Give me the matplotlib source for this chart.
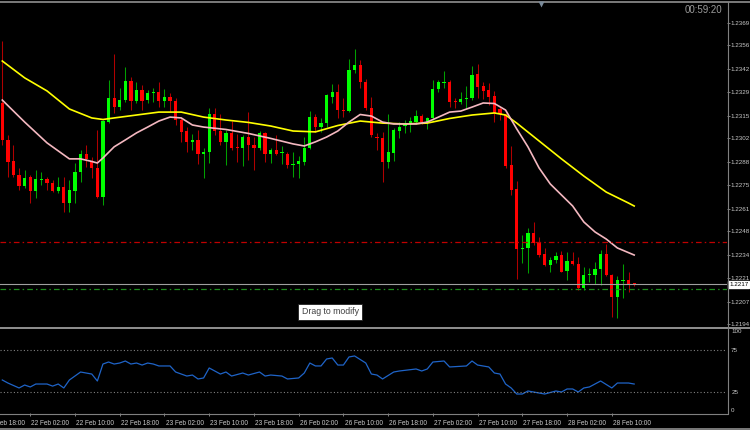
import matplotlib
matplotlib.use("Agg")
import matplotlib.pyplot as plt
import matplotlib.transforms as mtransforms
import numpy as np

plt.rcParams["font.family"] = ["Liberation Sans", "DejaVu Sans"]

# hourly candles, 21 Feb 21:00 .. 28 Feb 14:00
opens = [1.23225, 1.23010, 1.22887, 1.22806, 1.22742, 1.22794, 1.22713, 1.22777, 1.22783, 1.22760,
         1.22713, 1.22736, 1.22643, 1.22713, 1.22823, 1.22929, 1.22887, 1.22846, 1.22678, 1.23114,
         1.23254, 1.23201, 1.23242, 1.23353, 1.23236, 1.23300, 1.23242, 1.23283, 1.23289, 1.23236,
         1.23260, 1.23236, 1.23126, 1.23062, 1.22999, 1.23010, 1.22929, 1.22940, 1.23161, 1.23062,
         1.22999, 1.23051, 1.22970, 1.22964, 1.23027, 1.22981, 1.22964, 1.23051, 1.22929, 1.22952,
         1.22935, 1.22929, 1.22864, 1.22870, 1.22881, 1.22964, 1.23143, 1.23085, 1.23108, 1.23260,
         1.23289, 1.23184, 1.23178, 1.23417, 1.23446, 1.23347, 1.23196, 1.23027, 1.23021, 1.22881,
         1.22935, 1.23062, 1.23091, 1.23103, 1.23114, 1.23149, 1.23114, 1.23138, 1.23306, 1.23341,
         1.23347, 1.23236, 1.23230, 1.23248, 1.23254, 1.23394, 1.23324, 1.23300, 1.23266, 1.23190,
         1.23155, 1.22864, 1.22725, 1.22376, 1.22382, 1.22469, 1.22417, 1.22347, 1.22283, 1.22312,
         1.22341, 1.22248, 1.22306, 1.22289, 1.22149, 1.22225, 1.22225, 1.22260, 1.22347, 1.22225,
         1.22097, 1.22190, 1.22196, 1.22178]
highs = [1.23585, 1.23039, 1.22981, 1.22846, 1.22835, 1.22806, 1.22835, 1.22823, 1.22794, 1.22777,
         1.22794, 1.22794, 1.22777, 1.22876, 1.22952, 1.22981, 1.22911, 1.23068, 1.23126, 1.23359,
         1.23510, 1.23312, 1.23434, 1.23376, 1.23347, 1.23330, 1.23300, 1.23312, 1.23347, 1.23306,
         1.23283, 1.23254, 1.23143, 1.23085, 1.23045, 1.23068, 1.22964, 1.23196, 1.23196, 1.23161,
         1.23068, 1.23120, 1.23045, 1.23039, 1.23172, 1.23027, 1.23062, 1.23057, 1.22964, 1.23039,
         1.22975, 1.22940, 1.22940, 1.22917, 1.23027, 1.23178, 1.23161, 1.23138, 1.23277, 1.23335,
         1.23335, 1.23254, 1.23481, 1.23539, 1.23475, 1.23365, 1.23260, 1.23051, 1.23057, 1.23161,
         1.23079, 1.23114, 1.23126, 1.23143, 1.23184, 1.23161, 1.23143, 1.23359, 1.23359, 1.23411,
         1.23359, 1.23254, 1.23289, 1.23324, 1.23440, 1.23452, 1.23347, 1.23341, 1.23295, 1.23201,
         1.23167, 1.22975, 1.22771, 1.22458, 1.22498, 1.22533, 1.22446, 1.22382, 1.22330, 1.22359,
         1.22365, 1.22359, 1.22359, 1.22330, 1.22272, 1.22266, 1.22301, 1.22370, 1.22405, 1.22230,
         1.22219, 1.22289, 1.22242, 1.22180]
lows = [1.22981, 1.22794, 1.22794, 1.22719, 1.22731, 1.22643, 1.22673, 1.22748, 1.22719, 1.22707,
        1.22701, 1.22591, 1.22591, 1.22643, 1.22765, 1.22852, 1.22789, 1.22675, 1.22632, 1.23108,
        1.23166, 1.23184, 1.23230, 1.23184, 1.23225, 1.23184, 1.23225, 1.23230, 1.23201, 1.23201,
        1.23172, 1.23097, 1.22999, 1.22940, 1.22952, 1.22870, 1.22789, 1.22876, 1.23039, 1.22981,
        1.22864, 1.22952, 1.22881, 1.22858, 1.22893, 1.22835, 1.22952, 1.22881, 1.22876, 1.22923,
        1.22870, 1.22846, 1.22794, 1.22789, 1.22864, 1.22960, 1.23057, 1.23057, 1.23085, 1.23225,
        1.23138, 1.23143, 1.23172, 1.23399, 1.23312, 1.23184, 1.23027, 1.22952, 1.22765, 1.22846,
        1.22887, 1.23021, 1.23051, 1.23057, 1.23103, 1.23103, 1.23074, 1.23126, 1.23289, 1.23312,
        1.23201, 1.23196, 1.23219, 1.23196, 1.23242, 1.23254, 1.23248, 1.23213, 1.23114, 1.23126,
        1.22846, 1.22690, 1.22202, 1.22295, 1.22237, 1.22399, 1.22330, 1.22277, 1.22242, 1.22295,
        1.22240, 1.22196, 1.22283, 1.22138, 1.22138, 1.22184, 1.22173, 1.22167, 1.22219, 1.21981,
        1.21975, 1.22091, 1.22126, 1.22158]
closes = [1.23010, 1.22881, 1.22806, 1.22742, 1.22789, 1.22713, 1.22783, 1.22783, 1.22760, 1.22713,
          1.22736, 1.22643, 1.22719, 1.22823, 1.22929, 1.22900, 1.22846, 1.22678, 1.23120, 1.23254,
          1.23201, 1.23242, 1.23353, 1.23236, 1.23300, 1.23236, 1.23283, 1.23289, 1.23236, 1.23260,
          1.23236, 1.23126, 1.23057, 1.22999, 1.23010, 1.22929, 1.22940, 1.23161, 1.23062, 1.22999,
          1.23051, 1.22964, 1.22964, 1.23027, 1.22981, 1.22964, 1.23051, 1.22929, 1.22952, 1.22929,
          1.22940, 1.22864, 1.22870, 1.22887, 1.22964, 1.23143, 1.23085, 1.23108, 1.23271, 1.23289,
          1.23184, 1.23178, 1.23417, 1.23446, 1.23347, 1.23196, 1.23039, 1.23021, 1.22881, 1.22940,
          1.23068, 1.23085, 1.23103, 1.23120, 1.23149, 1.23114, 1.23138, 1.23306, 1.23347, 1.23347,
          1.23230, 1.23230, 1.23248, 1.23254, 1.23388, 1.23318, 1.23295, 1.23260, 1.23167, 1.23161,
          1.22858, 1.22719, 1.22376, 1.22382, 1.22469, 1.22411, 1.22341, 1.22283, 1.22312, 1.22336,
          1.22242, 1.22306, 1.22289, 1.22149, 1.22225, 1.22231, 1.22260, 1.22347, 1.22225, 1.22097,
          1.22196, 1.22196, 1.22167, 1.22170]

# moving averages (bar index, price)
ma_slow_idx = [0, 4, 8, 12, 16, 18, 20, 24, 28, 32, 36, 40, 44, 48, 52, 56, 60, 64, 68, 72,
               76, 80, 84, 88, 90, 92, 96, 100, 104, 108, 112, 113]
ma_slow = [1.23469, 1.23371, 1.23295, 1.23190, 1.23138, 1.23129, 1.23138, 1.23155, 1.23172, 1.23172,
           1.23143, 1.23126, 1.23112, 1.23091, 1.23062, 1.23057, 1.23094, 1.23120, 1.23108, 1.23103,
           1.23108, 1.23135, 1.23155, 1.23167, 1.23155, 1.23108, 1.23004, 1.22900, 1.22800, 1.22707,
           1.22643, 1.22626]
ma_fast_idx = [0, 4, 8, 12, 14, 16, 17, 18, 20, 22, 24, 26, 28, 30, 32, 34, 36, 40, 44, 48,
               52, 54, 56, 58, 60, 62, 64, 66, 68, 70, 74, 76, 78, 80, 82, 84, 86, 88, 90, 92,
               94, 96, 98, 100, 102, 104, 106, 108, 110, 113]
ma_fast = [1.23242, 1.23114, 1.22993, 1.22900, 1.22900, 1.22885, 1.22876, 1.22905, 1.22970, 1.23010,
           1.23051, 1.23085, 1.23120, 1.23143, 1.23138, 1.23097, 1.23085, 1.23071, 1.23048, 1.23019,
           1.22987, 1.22975, 1.22999, 1.23027, 1.23062, 1.23114, 1.23158, 1.23149, 1.23114, 1.23103,
           1.23103, 1.23114, 1.23143, 1.23172, 1.23178, 1.23201, 1.23225, 1.23222, 1.23184, 1.23074,
           1.22970, 1.22847, 1.22754, 1.22690, 1.22626, 1.22533, 1.22475, 1.22434, 1.22382, 1.22341]

red_level = 1.22416
green_level = 1.22144

# oscillator (bar index, value)
osc_idx = [0, 1, 3, 4, 5, 6, 8, 9, 10, 11, 12, 14, 16, 17, 18, 19, 20, 21, 22, 23,
           24, 25, 26, 27, 28, 30, 31, 33, 34, 35, 36, 37, 39, 40, 41, 43, 44, 46, 47, 48,
           50, 51, 53, 54, 55, 56, 57, 58, 59, 60, 61, 62, 63, 65, 66, 67, 68, 70, 71, 74,
           75, 76, 77, 79, 80, 83, 84, 85, 87, 88, 89, 90, 91, 92, 93, 94, 95, 97, 99, 100,
           101, 102, 103, 104, 105, 107, 109, 110, 112, 113]
osc = [39.3, 35.7, 29.8, 33.3, 31.0, 34.5, 34.5, 32.0, 34.5, 29.8, 39.3, 48.8, 46.4, 38.1, 58.3, 60.7,
       58.3, 59.5, 61.9, 58.3, 59.5, 57.1, 59.5, 58.3, 56.0, 56.0, 48.8, 44.0, 45.2, 40.5, 41.7, 53.6,
       46.4, 48.8, 44.0, 47.6, 45.2, 48.8, 44.0, 45.2, 44.0, 40.5, 41.7, 47.6, 59.5, 56.0, 56.0, 64.3,
       65.5, 57.1, 57.1, 66.7, 67.9, 59.5, 46.4, 45.2, 40.5, 48.8, 50.0, 52.4, 50.0, 52.4, 60.7, 61.9,
       54.8, 56.0, 61.9, 57.1, 54.8, 47.6, 46.4, 34.5, 29.8, 22.6, 22.6, 26.2, 25.0, 22.6, 26.2, 25.0,
       28.6, 28.6, 25.0, 29.8, 31.0, 38.1, 29.8, 35.7, 35.7, 34.5]
osc_levels = [75, 25]

price_ticks = [1.2369, 1.2356, 1.2342, 1.2329, 1.2315, 1.2302, 1.2288, 1.2275, 1.2261, 1.2248,
               1.2234, 1.2221, 1.2207, 1.2194]
time_idx = [-3, 5, 13, 21, 29, 37, 45, 53, 61, 69, 77, 85, 93, 101, 109]
time_labels = ["21 Feb 18:00", "22 Feb 02:00", "22 Feb 10:00", "22 Feb 18:00", "23 Feb 02:00",
               "23 Feb 10:00", "23 Feb 18:00", "26 Feb 02:00", "26 Feb 10:00", "26 Feb 18:00",
               "27 Feb 02:00", "27 Feb 10:00", "27 Feb 18:00", "28 Feb 02:00", "28 Feb 10:00"]

W, H = 750, 430
GRAY = "#808080"
TXT = "#c8c8c8"

fig = plt.figure(figsize=(7.5, 4.3), dpi=100, facecolor="black")
ax = fig.add_axes([0, (H - 327) / H, 727 / W, 324 / H], facecolor="black")
ax2 = fig.add_axes([0, (H - 413) / H, 727 / W, 84 / H], facecolor="black")

x = np.arange(len(opens))
o = np.array(opens)
c = np.array(closes)
up = c >= o
body_lo = np.minimum(o, c)
body_h = np.maximum(np.abs(c - o), 0.00005)

ax.vlines(x[up], np.array(lows)[up], np.array(highs)[up], color="#00a000", lw=0.75, zorder=2)
ax.vlines(x[~up], np.array(lows)[~up], np.array(highs)[~up], color="#b00000", lw=0.75, zorder=2)
ax.bar(x[up], body_h[up], bottom=body_lo[up], width=0.58, color="#00ff00", lw=0, zorder=3)
ax.bar(x[~up], body_h[~up], bottom=body_lo[~up], width=0.58, color="#ff0000", lw=0, zorder=3)

ax.plot(ma_slow_idx, ma_slow, color="#ffff00", lw=1.2, zorder=4)
ax.plot(ma_fast_idx, ma_fast, color="#f4b8c0", lw=1.2, zorder=4)

ax.axhline(red_level, color="#c00000", lw=0.9, ls=(0, (4.5, 2.5, 1.2, 2.5)), zorder=5)
ax.axhline(green_level, color="#1e8c1e", lw=0.9, ls=(0, (4.5, 2.5, 1.2, 2.5)), zorder=5)
ax.axhline(closes[-1], color="#a0a0a0", lw=0.8, zorder=5)

ax.set_xlim(-0.41, 129.6)
ax.set_ylim(1.219225, 1.238063)
ax.set_xticks([])
ax.yaxis.tick_right()
ax.set_yticks(price_ticks)
ax.set_yticklabels([f"{p:.4f}" for p in price_ticks])
ax.tick_params(axis="y", length=1.8, width=0.7, color=GRAY, labelcolor=TXT, labelsize=4.5, pad=0.6)
for s in ax.spines.values():
    s.set_visible(False)

trans = mtransforms.blended_transform_factory(ax.transAxes, ax.transData)
ax.text(1.003, closes[-1], "1.2217", transform=trans, fontsize=4.5, color="black", va="center",
        ha="left", bbox=dict(boxstyle="square,pad=0.15", fc="white", ec="white"), zorder=10, clip_on=False)

ax2.plot(osc_idx, osc, color="#1f64c8", lw=0.9)
for lv in osc_levels:
    ax2.axhline(lv, color=GRAY, lw=0.8, ls=(0, (1, 2)))
ax2.set_xlim(-0.41, 129.6)
ax2.set_ylim(0, 100)
ax2.yaxis.tick_right()
ax2.set_yticks([100, 75, 25, 0])
ax2.set_yticklabels(["100", "75", "25", "0"])
ax2.tick_params(axis="y", length=0, labelcolor=TXT, labelsize=4.5, pad=3)
for lab, va in zip(ax2.get_yticklabels(), ["top", "center", "center", "bottom"]):
    lab.set_va(va)

# time scale: tick marks plus left-aligned labels (first one runs off the left edge)
ax2.set_xticks([i for i in time_idx if i >= 0])
ax2.set_xticklabels([])
ax2.tick_params(axis="x", length=2.5, width=0.7, color=GRAY)
ttrans = mtransforms.blended_transform_factory(ax2.transData, ax2.transAxes)
for i, lab in zip(time_idx, time_labels):
    ax2.text(i + 0.2, -0.08, lab, transform=ttrans, fontsize=4.7, color=TXT,
             ha="left", va="top", clip_on=False)
for s in ax2.spines.values():
    s.set_visible(False)

# window frame
ov = fig.add_axes([0, 0, 1, 1], facecolor="none", zorder=20)
ov.set_xlim(0, W)
ov.set_ylim(H, 0)
ov.axis("off")
ov.plot([0, W], [1.5, 1.5], color="#909090", lw=1.2)
ov.plot([0, W], [327.5, 327.5], color="#909090", lw=1.4)
ov.plot([727.5, 727.5], [2, 413], color=GRAY, lw=0.8)
ov.plot([0, 727.5], [413.5, 413.5], color=GRAY, lw=0.8)
ov.plot([0, W], [428.5, 428.5], color="#909090", lw=1.2)
ov.plot([540.5], [3.5], marker="v", ms=4, color="#7a8a9a", mec="none")
ov.text(722, 10, "00:59:20", color="#9a9a9a", fontsize=7, ha="right", va="center")
ov.text(330, 312, "Drag to modify", color="#404040", fontsize=6.3, ha="center", va="center",
        bbox=dict(boxstyle="square,pad=0.35", fc="white", ec="#202020", lw=0.6))

fig.savefig("out.png", dpi=100, facecolor="black")
